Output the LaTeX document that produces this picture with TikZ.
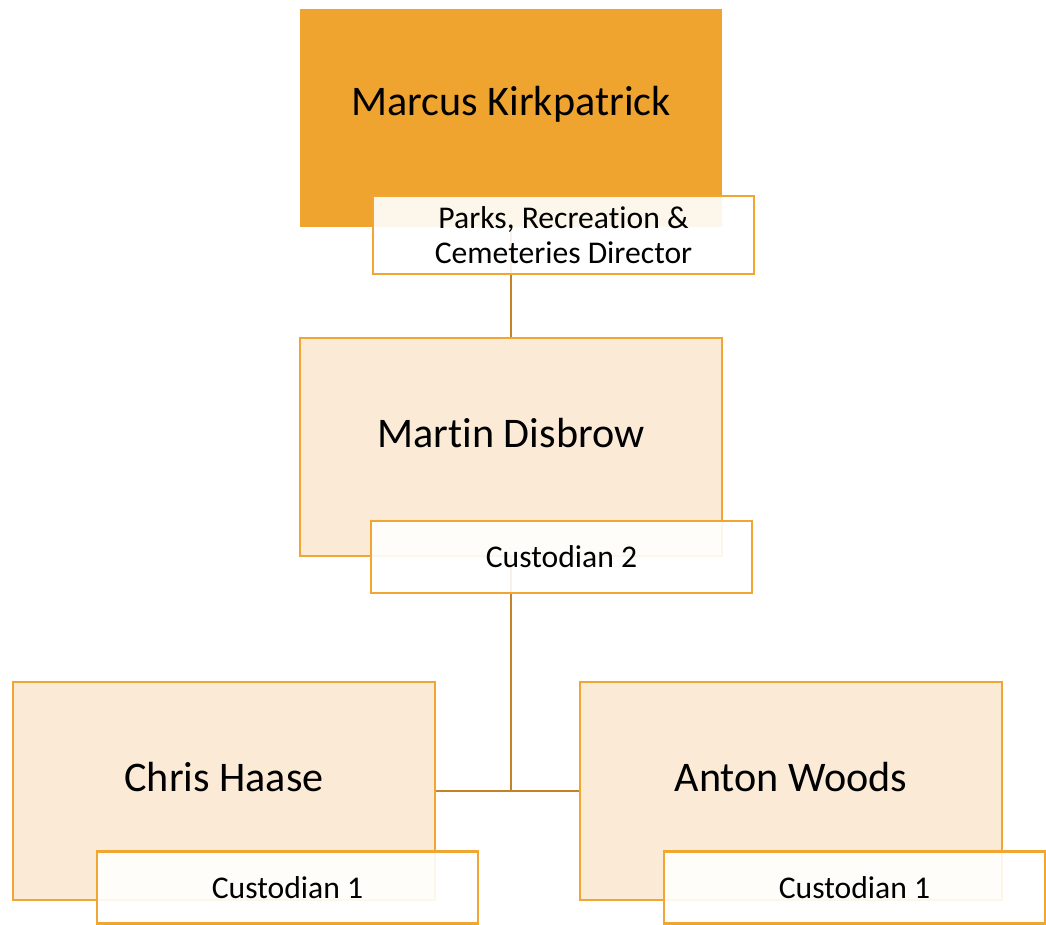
\documentclass[tikz,border=0pt]{standalone}
\usepackage{fontspec}
\setmainfont[Ligatures={NoCommon}]{Carlito}
\usepackage{tikz}
\usetikzlibrary{positioning}

\definecolor{headorange}{RGB}{240,164,48}
\definecolor{lightpeach}{RGB}{251,235,214}
\definecolor{edgeorange}{RGB}{242,166,50}
\definecolor{linkbrown}{RGB}{196,130,42}

\begin{document}
\begin{tikzpicture}[
  x=0.02cm, y=-0.02cm,
  namebox/.style={
    draw=edgeorange,
    line width=1.3pt,
    fill=lightpeach,
    minimum width=8.44cm,
    minimum height=4.36cm,
    inner sep=0pt
  },
  headbox/.style={
    namebox,
    draw=none,
    fill=headorange
  },
  namefont/.style={
    font=\fontsize{24}{28}\selectfont
  },
  titlebox/.style={
    draw=edgeorange,
    line width=1.3pt,
    fill=white,
    fill opacity=0.9,
    text opacity=1,
    align=center,
    minimum width=7.62cm,
    minimum height=1.44cm,
    inner sep=0pt,
    font=\fontsize{18}{20}\selectfont
  },
  link/.style={draw=linkbrown, line width=1.6pt}
]
\useasboundingbox (0,0) rectangle (1046,925);

% connectors first, boxes on top
\coordinate (marcusc) at (511,118);
\coordinate (martinc) at (511,447);
\coordinate (chrisc) at (224,791);
\coordinate (antonc) at (791,791);
\draw[link] (marcusc) -- (martinc);
\draw[link] (martinc) -- (martinc |- chrisc);
\draw[link] (chrisc) -- (antonc);

% people
\node[headbox] (marcus) at (marcusc) {};
\node[namebox] (martin) at (martinc) {};
\node[namebox] (chris) at (chrisc) {};
\node[namebox] (anton) at (antonc) {};

\node[namefont] (marcusname) at (511,104) {Marcus Kirkpatrick};
\node[namefont] (martinname) at (511,433) {Martin Disbrow};
\node[namefont] (chrisname) at (224,777) {Chris Haase};
\node[namefont] (antonname) at (791,777) {Anton Woods};

% job titles
\node[titlebox, minimum height=1.56cm] (marcustitle) at (563.5,235) {Parks, Recreation \&\\Cemeteries Director};
\node[titlebox] (martintitle) at (561.5,557) {Custodian 2};
\node[titlebox] (christitle) at (287.5,887.5) {Custodian 1};
\node[titlebox] (antontitle) at (854.5,887.5) {Custodian 1};
\end{tikzpicture}
\end{document}
